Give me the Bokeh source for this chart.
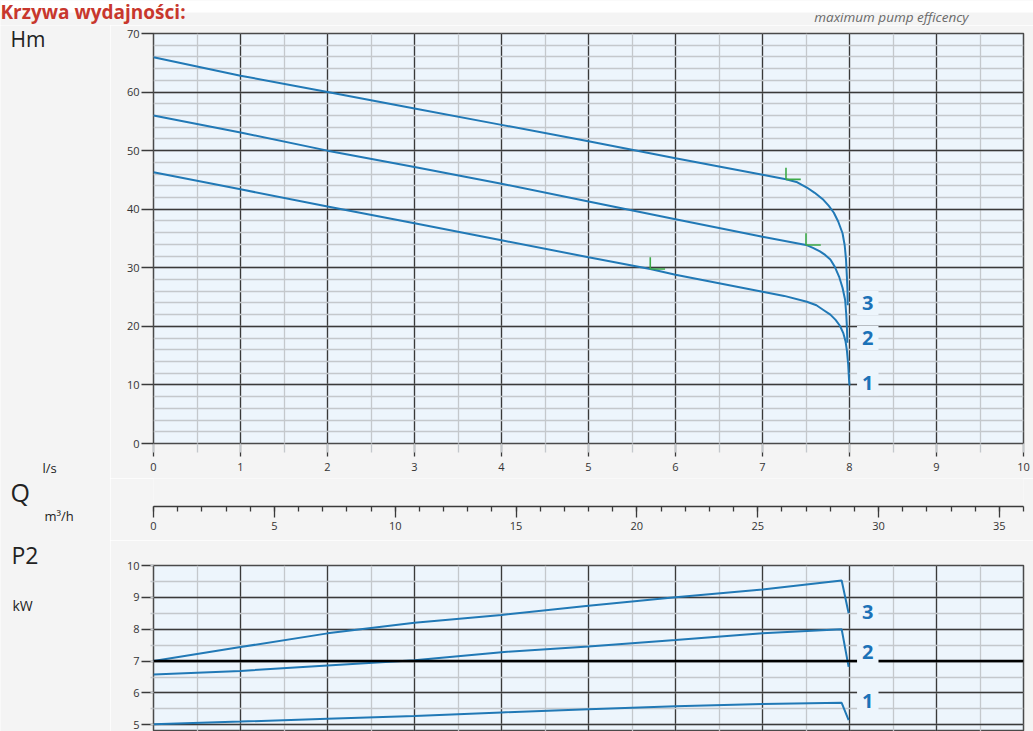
from bokeh.plotting import figure
from bokeh.models import Range1d, SingleIntervalTicker, Label, Span
from bokeh.core.properties import value
from bokeh.layouts import column, row
from bokeh.embed import file_html
from bokeh.resources import INLINE

# ---------------- data ----------------
# Head curves: H (m) against Q (l/s)
q_h1 = [0, 1, 2, 3, 4, 5, 5.71, 6, 7, 7.25, 7.51, 7.62, 7.70, 7.78, 7.84, 7.89,
        7.93, 7.955, 7.97, 7.985, 7.995, 8.0]
h_1 = [46.3, 43.4, 40.45, 37.6, 34.7, 31.8, 29.8, 28.8, 25.9, 25.2, 24.2, 23.6, 22.8,
       22.0, 21.1, 20.1, 18.8, 17.4, 15.9, 13.5, 10.8, 9.9]

q_h2 = [0, 1, 2, 3, 4, 5, 6, 7, 7.5, 7.58, 7.66, 7.72, 7.78, 7.83, 7.88, 7.92,
        7.95, 7.962, 7.97, 7.975]
h_2 = [56.0, 53.1, 50.0, 47.2, 44.35, 41.3, 38.3, 35.3, 33.9, 33.4, 32.8, 32.2,
       31.4, 30.2, 28.5, 26.6, 24.5, 22.2, 20.0, 17.2]

q_h3 = [0, 1, 2, 3, 4, 5, 6, 7, 7.27, 7.4, 7.51, 7.6, 7.70, 7.76, 7.82, 7.87,
        7.92, 7.945, 7.96, 7.97, 7.977, 7.98]
h_3 = [65.95, 62.8, 60.0, 57.2, 54.4, 51.6, 48.7, 45.9, 45.1, 44.6, 43.7, 42.8,
       41.6, 40.6, 39.4, 37.9, 35.9, 33.8, 31.4, 28.5, 26.0, 23.6]

# Maximum pump efficiency points (curves 1, 2, 3)
eff_q = [5.71, 7.50, 7.27]
eff_h = [29.8, 33.9, 45.1]

# Power curves: P2 (kW) against Q (l/s)
q_p = [0, 1, 2, 3, 4, 5, 6, 7, 7.91, 7.99]
p2_1 = [5.02, 5.10, 5.19, 5.28, 5.39, 5.49, 5.58, 5.65, 5.69, 5.15]
p2_2 = [6.58, 6.69, 6.86, 7.03, 7.28, 7.46, 7.66, 7.87, 8.0, 6.82]
p2_3 = [7.0, 7.44, 7.87, 8.2, 8.45, 8.74, 9.0, 9.25, 9.53, 8.5]

curve_names = ["1", "2", "3"]
h_label_y = [10.3, 18.0, 24.0]
p_label_y = [5.76, 7.27, 8.55]
label_q = 8.21

title_text = "Krzywa wydajności:"
note_text = "maximum pump efficency"

# ---------------- style ----------------
PAGE_BG = "#F4F4F4"
PLOT_BG = "#EDF5FC"
MAJOR = "#3a3a3a"
MINOR = "#c4c8cc"
BLUE = "#2179B6"
LBLUE = "#1C72B8"
GREEN = "#3DAA48"
FONT = "Open Sans"
PAGE_W = 1033
LEFT_W = 110
MAIN_W = PAGE_W - LEFT_W
TOP_H = 25

common = dict(width=MAIN_W, output_backend="svg", toolbar_location=None, tools="",
              min_border_left=153 - LEFT_W, min_border_right=10,
              border_fill_color=PAGE_BG)


def style_plot(p, xt, yt):
    p.xaxis.ticker = xt
    p.yaxis.ticker = yt
    p.xgrid.ticker = xt
    p.ygrid.ticker = yt
    for g in (p.xgrid, p.ygrid):
        g.grid_line_color = MAJOR
        g.grid_line_width = 1.3
        g.minor_grid_line_color = MINOR
        g.minor_grid_line_width = 1.3
    for ax in (p.xaxis, p.yaxis):
        ax.axis_line_color = None
        ax.major_tick_line_color = MAJOR
        ax.major_tick_line_width = 1.3
        ax.major_tick_in = 0
        ax.minor_tick_in = 0
        ax.major_label_text_font = FONT
        ax.major_label_text_font_size = "11px"
        ax.major_label_text_color = "#333333"
    p.yaxis.major_tick_out = 12
    p.yaxis.major_label_standoff = 2
    p.outline_line_color = "#4a4a4a"
    p.outline_line_width = 1.5


def curve_label(p, x, y, t):
    p.add_layout(Label(x=x, y=y, text=t, text_font=FONT, text_font_size="20px",
                       text_color=LBLUE, text_font_style="bold", text_align="center",
                       text_baseline="middle", background_fill_color=PLOT_BG,
                       padding=5))


def pixel_fig(w, h, y_top, bg):
    f = figure(width=w, height=h, x_range=Range1d(0, w), y_range=Range1d(y_top + h, y_top),
               x_axis_type=None, y_axis_type=None, output_backend="svg",
               toolbar_location=None, tools="", min_border=0,
               background_fill_color=bg, border_fill_color=bg)
    f.outline_line_color = None
    f.grid.visible = False
    return f


def put(p, x, y, t, size, color="#222222", style="normal", align="left"):
    p.text(x=[x], y=[y], text=[t], text_font=value(FONT), text_font_size=value(size),
           text_color=color, text_font_style=style, text_align=align,
           text_baseline="middle")


# ---------------- top strip ----------------
pT = pixel_fig(PAGE_W, TOP_H, 0, PAGE_BG)
pT.quad(left=[0], right=[PAGE_W], top=[0], bottom=[12], fill_color="white", line_color=None)
put(pT, 0, 11.5, title_text, "19px", color="#C8372D", style="bold")
put(pT, 968, 16.5, note_text, "13.5px", color="#6a6a6a", style="italic", align="right")

# ---------------- left text column ----------------
pL = pixel_fig(LEFT_W, 731 - TOP_H, TOP_H, PAGE_BG)
put(pL, 10, 38, "Hm", "21px")
put(pL, 42, 467.5, "l/s", "13px")
put(pL, 10, 491, "Q", "25px")
put(pL, 44, 515.5, "m³/h", "13px")
put(pL, 11, 554, "P2", "23px")
put(pL, 12, 605, "kW", "14px")

# ---------------- top chart: Hm ----------------
pA = figure(height=478 - TOP_H, x_range=Range1d(0, 10), y_range=Range1d(0, 70),
            min_border_top=33 - TOP_H, min_border_bottom=35,
            background_fill_color=PLOT_BG, **common)
style_plot(pA, SingleIntervalTicker(interval=1, num_minor_ticks=2),
           SingleIntervalTicker(interval=10, num_minor_ticks=5))
pA.yaxis.minor_tick_out = 0
pA.xaxis.major_tick_out = 13
pA.xaxis.minor_tick_out = 9
pA.xaxis.minor_tick_line_color = MINOR
pA.xaxis.minor_tick_line_width = 1.3
pA.xaxis.major_label_standoff = 6

for q, h in ((q_h1, h_1), (q_h2, h_2), (q_h3, h_3)):
    pA.line(q, h, line_color=BLUE, line_width=2)

pA.segment(x0=eff_q, y0=eff_h, x1=eff_q, y1=[v + 2.0 for v in eff_h],
           line_color=GREEN, line_width=1.6)
pA.segment(x0=eff_q, y0=eff_h, x1=[v + 0.17 for v in eff_q], y1=eff_h,
           line_color=GREEN, line_width=1.6)

for name, yv in zip(curve_names, h_label_y):
    curve_label(pA, label_q, yv, name)

# ---------------- Q axis in m3/h ----------------
pB = figure(height=62, x_range=Range1d(0, 36), y_range=Range1d(0, 28),
            min_border_top=0, min_border_bottom=34,
            background_fill_color=PAGE_BG, **common)
pB.outline_line_color = None
pB.grid.visible = False
pB.yaxis.visible = False
pB.xaxis.ticker = SingleIntervalTicker(interval=5, num_minor_ticks=5)
pB.xaxis.axis_line_color = MAJOR
pB.xaxis.axis_line_width = 1.3
pB.xaxis.major_tick_line_color = MAJOR
pB.xaxis.minor_tick_line_color = MAJOR
pB.xaxis.major_tick_line_width = 1.3
pB.xaxis.minor_tick_line_width = 1.3
pB.xaxis.major_tick_in = 0
pB.xaxis.minor_tick_in = 0
pB.xaxis.major_tick_out = 11
pB.xaxis.minor_tick_out = 5
pB.xaxis.major_label_standoff = 4
pB.xaxis.major_label_text_font = FONT
pB.xaxis.major_label_text_font_size = "11px"
pB.xaxis.major_label_text_color = "#333333"

# ---------------- bottom chart: P2 ----------------
pC = figure(height=191, x_range=Range1d(0, 10), y_range=Range1d(4.79, 10),
            min_border_top=25, min_border_bottom=0,
            background_fill_color=PLOT_BG, **common)
style_plot(pC, SingleIntervalTicker(interval=1, num_minor_ticks=2),
           SingleIntervalTicker(interval=1, num_minor_ticks=2))
pC.xaxis.visible = False
pC.yaxis.minor_tick_out = 3
pC.yaxis.minor_tick_line_color = MINOR
pC.yaxis.minor_tick_line_width = 1.3

for pv in (p2_1, p2_2, p2_3):
    pC.line(q_p, pv, line_color=BLUE, line_width=2)

pC.add_layout(Span(location=7, dimension="width", line_color="black", line_width=2.5))
for name, yv in zip(curve_names, p_label_y):
    curve_label(pC, label_q, yv, name)

layout = column(pT, row(pL, column(pA, pB, pC, spacing=0), spacing=0), spacing=0)
open("out.html", "w").write(file_html(layout, INLINE))
